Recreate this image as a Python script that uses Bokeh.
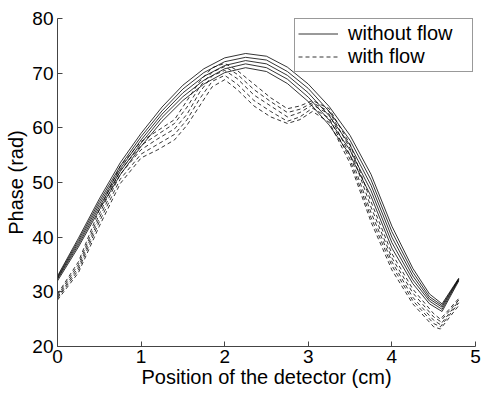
from bokeh.plotting import figure
from bokeh.models import ColumnDataSource, Range1d, FixedTicker, Legend, LegendItem
from bokeh.embed import file_html
from bokeh.resources import INLINE

# ---------------- data ----------------
x_ticks = [0, 1, 2, 3, 4, 5]
y_ticks = [20, 30, 40, 50, 60, 70, 80]

# "without flow" curves (solid)
x_noflow = [0, 0.25, 0.5, 0.75, 1.0, 1.25, 1.5, 1.75, 2.0, 2.25, 2.5, 2.75,
            3.0, 3.25, 3.5, 3.75, 4.0, 4.25, 4.45, 4.6, 4.8]
noflow_1 = [32.9, 39.8, 47.0, 53.6, 59.0, 63.8, 67.8, 70.8, 72.8, 73.6, 73.1, 71.1,
            68.0, 63.9, 58.6, 51.5, 42.0, 34.3, 29.6, 27.8, 32.5]
noflow_2 = [32.7, 39.4, 46.5, 53.0, 58.4, 63.1, 67.1, 70.1, 72.1, 72.9, 72.4, 70.3,
            67.2, 63.0, 57.7, 50.5, 41.0, 33.6, 29.1, 27.5, 32.4]
noflow_3 = [32.5, 39.0, 46.0, 52.5, 57.8, 62.5, 66.4, 69.4, 71.4, 72.3, 71.7, 69.6,
            66.4, 62.2, 56.8, 49.5, 40.0, 32.9, 28.7, 27.2, 32.3]
noflow_4 = [32.3, 38.6, 45.5, 52.0, 57.2, 61.9, 65.7, 68.7, 70.8, 71.7, 71.0, 68.9,
            65.6, 61.4, 55.9, 48.5, 39.0, 32.2, 28.3, 26.8, 32.2]
noflow_5 = [32.0, 38.2, 45.0, 51.4, 56.6, 61.2, 65.0, 68.0, 70.1, 71.0, 70.3, 68.1,
            64.8, 60.5, 55.0, 47.5, 38.0, 31.5, 27.8, 26.4, 32.0]

# "with flow" curves (dashed)
x_flow = [0, 0.25, 0.5, 0.75, 1.0, 1.2, 1.4, 1.55, 1.7, 1.85, 2.0, 2.15, 2.35,
          2.55, 2.75, 2.9, 3.05, 3.25, 3.5, 3.75, 4.0, 4.25, 4.5, 4.58, 4.8]
flow_1 = [29.6, 35.5, 45.0, 53.0, 57.5, 59.5, 61.5, 65.0, 68.5, 71.0, 71.8, 70.5, 68.0,
          65.5, 63.5, 64.0, 65.0, 63.5, 57.0, 46.5, 37.0, 30.5, 26.0, 25.0, 28.8]
flow_2 = [29.3, 35.0, 44.2, 52.2, 56.8, 58.8, 60.8, 63.8, 67.5, 70.2, 71.2, 69.8, 67.0,
          64.8, 62.8, 63.4, 64.6, 63.0, 56.2, 45.5, 36.2, 29.8, 25.4, 24.6, 28.5]
flow_3 = [29.0, 34.5, 43.5, 51.5, 56.0, 58.0, 59.8, 62.5, 66.5, 69.5, 70.5, 69.0, 66.0,
          64.0, 62.0, 62.8, 64.2, 62.5, 55.0, 44.5, 35.5, 29.0, 24.8, 24.0, 28.3]
flow_4 = [28.8, 34.0, 42.8, 50.6, 55.2, 57.0, 58.8, 61.5, 65.3, 68.5, 69.6, 68.0, 65.0,
          63.0, 61.2, 62.0, 63.6, 61.8, 54.2, 43.6, 34.8, 28.4, 24.2, 23.6, 28.0]
flow_5 = [28.5, 33.5, 42.0, 49.8, 54.5, 56.0, 57.8, 60.5, 64.0, 67.5, 68.8, 67.0, 64.0,
          62.0, 60.8, 61.5, 63.0, 61.0, 53.5, 42.8, 34.0, 27.8, 23.6, 23.2, 27.5]

# faint dotted trace at the left edge
edge_x = [0, 0]
edge_y = [20, 40]

# ---------------- figure ----------------
FONT = "Liberation Sans"

p = figure(width=481, height=394, output_backend="svg", toolbar_location=None,
           x_range=Range1d(0, 5), y_range=Range1d(20, 80),
           min_border_left=57, min_border_right=6, min_border_top=18, min_border_bottom=48,
           x_axis_label="Position of the detector (cm)", y_axis_label="Phase (rad)")
p.outline_line_color = None
p.grid.visible = False
p.background_fill_color = "white"
p.border_fill_color = "white"

src_noflow = ColumnDataSource(dict(xs=[x_noflow] * 5,
                                   ys=[noflow_1, noflow_2, noflow_3, noflow_4, noflow_5]))
src_flow = ColumnDataSource(dict(xs=[x_flow] * 5,
                                 ys=[flow_1, flow_2, flow_3, flow_4, flow_5]))

r_edge = p.line(edge_x, edge_y, line_color="#555555", line_width=1, line_dash="1 2")
r_noflow = p.multi_line("xs", "ys", source=src_noflow, line_color="black", line_width=0.8)
r_flow = p.multi_line("xs", "ys", source=src_flow, line_color="black", line_width=0.8,
                      line_dash="4 3")

for ax in (p.xaxis[0], p.yaxis[0]):
    ax.axis_line_color = "#444444"
    ax.major_tick_line_color = "#444444"
    ax.major_tick_in = 5
    ax.major_tick_out = 0
    ax.minor_tick_line_color = None
    ax.major_label_text_font = FONT
    ax.major_label_text_font_size = "19px"
    ax.major_label_text_color = "black"
    ax.axis_label_text_font = FONT
    ax.axis_label_text_font_size = "20px"
    ax.axis_label_text_font_style = "normal"
    ax.axis_label_text_color = "black"

p.xaxis[0].ticker = FixedTicker(ticks=x_ticks)
p.yaxis[0].ticker = FixedTicker(ticks=y_ticks)
p.xaxis[0].major_label_standoff = 3
p.xaxis[0].axis_label_standoff = 0
p.yaxis[0].major_label_standoff = 4
p.yaxis[0].axis_label_standoff = 2

legend = Legend(items=[LegendItem(label="without flow", renderers=[r_noflow]),
                       LegendItem(label="with flow", renderers=[r_flow])],
                location=(237, 274))
legend.label_text_font = FONT
legend.label_text_font_size = "20px"
legend.label_text_color = "black"
legend.border_line_color = "#333333"
legend.border_line_width = 1
legend.background_fill_alpha = 1
legend.padding = 3
legend.spacing = 0
legend.margin = 0
legend.glyph_width = 40
legend.glyph_height = 19
legend.label_height = 19
legend.label_width = 121
legend.label_standoff = 10
p.add_layout(legend)

open("out.html", "w").write(file_html(p, INLINE))
